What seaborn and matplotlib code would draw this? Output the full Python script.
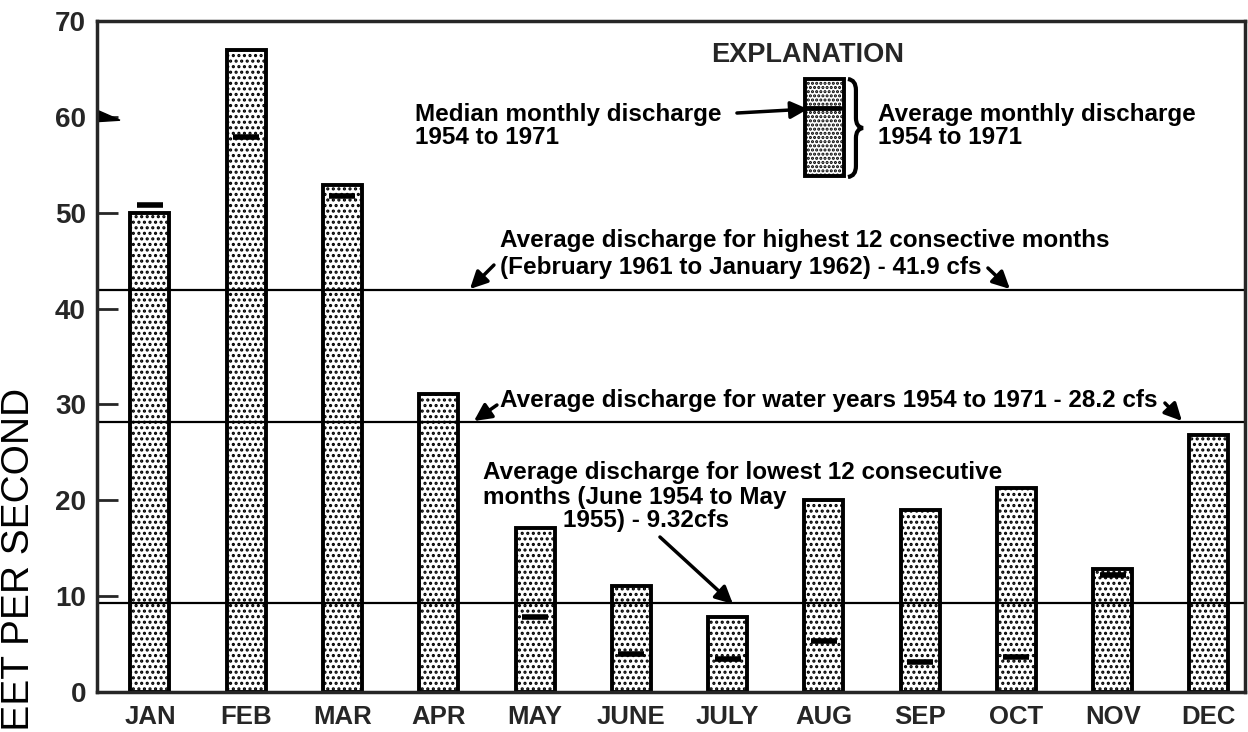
"""Monthly discharge bar chart, 1954 to 1971."""
import matplotlib
matplotlib.use("Agg")
import matplotlib.pyplot as plt
import matplotlib.transforms as mtransforms
from matplotlib.patches import Rectangle, Polygon, PathPatch
from matplotlib.path import Path
import numpy as np
import pandas as pd
import seaborn as sns

months = ["JAN", "FEB", "MAR", "APR", "MAY", "JUNE", "JULY",
          "AUG", "SEP", "OCT", "NOV", "DEC"]
avg_discharge = [50.0, 67.0, 52.9, 31.1, 17.1, 11.1, 7.8, 20.0, 19.0, 21.3, 12.8, 26.8]
median_discharge = [50.8, 57.9, 51.7, np.nan, 7.8, 4.0, 3.4, 5.3, 3.1, 3.7, 12.2, np.nan]
ref_levels = [41.9, 28.2, 9.32]
y_ticks = [0, 10, 20, 30, 40, 50, 60, 70]

df = pd.DataFrame({"month": months, "avg": avg_discharge, "median": median_discharge})

sns.set_style("ticks")
plt.rcParams["font.family"] = ["Liberation Sans", "DejaVu Sans"]
plt.rcParams["hatch.linewidth"] = 1.5

W, H = 1248, 732
fig = plt.figure(figsize=(W / 100, H / 100), dpi=100)
ax = fig.add_axes([97 / W, (H - 692) / H, (1245 - 97) / W, (692 - 21) / H])


def px(x, y):
    # pixel position in the reference -> data coords
    return (x - 150) / 96.27, (692 - y) / 9.586


sns.barplot(data=df, x="month", y="avg", order=months, width=0.405,
            color="white", saturation=1, edgecolor="black", linewidth=2.8,
            hatch="...", ax=ax)

med = df.dropna()
sns.scatterplot(data=med, x="month", y="median", marker="_", s=330,
                linewidth=4, color="black", ax=ax, zorder=5)

for lvl in ref_levels:
    ax.axhline(lvl, color="black", lw=1.6, zorder=1)

ax.set_xlim(-0.55, 11.375)
ax.set_ylim(0, 70)
ax.set_yticks(y_ticks)
ax.set_xlabel("")
ax.set_ylabel("")
for s in ax.spines.values():
    s.set_visible(True)
    s.set_linewidth(2.5)
ax.tick_params(axis="y", direction="in", length=15, width=2, pad=8,
               labelsize=20)
ax.tick_params(axis="x", length=0, pad=9, labelsize=18.5)
for lab in ax.get_yticklabels() + ax.get_xticklabels():
    lab.set_fontweight("bold")

# flag on the 60 tick
trans = mtransforms.blended_transform_factory(ax.transAxes, ax.transData)
ax.add_patch(Polygon([(0, 60.7), (0, 59.5), (0.02, 59.65)], closed=True,
                     color="black", transform=trans, clip_on=False))

arrow = dict(arrowstyle="-|>", lw=2.5, color="black", mutation_scale=26,
             shrinkA=0, shrinkB=0)
txt = dict(fontsize=17.5, fontweight="bold", color="black")

# highest 12 months
ax.text(*px(500, 254), "Average discharge for highest 12 consective months\n"
        "(February 1961 to January 1962) - 41.9 cfs",
        ha="left", va="center", linespacing=1.2, **txt)
ax.annotate("", xy=px(470, 289), xytext=px(494, 265), arrowprops=arrow)
ax.annotate("", xy=px(1010, 289), xytext=px(988, 268), arrowprops=arrow)

# water years
ax.text(*px(500, 400), "Average discharge for water years 1954 to 1971 - 28.2 cfs",
        ha="left", va="center", **txt)
ax.annotate("", xy=px(474, 421), xytext=px(497, 405), arrowprops=arrow)
ax.annotate("", xy=px(1182, 421), xytext=px(1165, 403), arrowprops=arrow)

# lowest 12 months
ax.text(*px(483, 485), "Average discharge for lowest 12 consecutive\n"
        "months (June 1954 to May",
        ha="left", va="center", linespacing=1.15, **txt)
ax.text(*px(563, 520), "1955) - 9.32cfs", ha="left", va="center", **txt)
ax.annotate("", xy=px(733, 604), xytext=px(660, 537), arrowprops=arrow)

# explanation
ax.text(*px(808, 55), "EXPLANATION", ha="center", va="center",
        fontsize=19.5, fontweight="bold")
x0, y0 = px(805, 176)
x1, y1 = px(844, 79)
ax.add_patch(Rectangle((x0, y0), x1 - x0, y1 - y0, facecolor="white",
                       edgecolor="black", lw=2.8, hatch="...."))
ax.plot([x0, x1 - 0.04], [px(0, 108)[1]] * 2, color="black", lw=3.5)
ax.annotate("", xy=px(808, 109), xytext=px(737, 113), arrowprops=arrow)
ax.text(*px(415, 126), "Median monthly discharge\n1954 to 1971",
        ha="left", va="center", linespacing=1.0, **txt)
ax.text(*px(878, 126), "Average monthly discharge\n1954 to 1971",
        ha="left", va="center", linespacing=1.0, **txt)

# brace
verts = [px(848, 79), px(856, 80), px(856, 90),
         px(856, 118), px(856, 127), px(863, 128),
         px(856, 129), px(856, 138),
         px(856, 166), px(856, 176), px(848, 177)]
codes = [Path.MOVETO, Path.CURVE3, Path.CURVE3,
         Path.LINETO, Path.CURVE3, Path.CURVE3,
         Path.CURVE3, Path.CURVE3,
         Path.LINETO, Path.CURVE3, Path.CURVE3]
ax.add_patch(PathPatch(Path(verts, codes), facecolor="none",
                       edgecolor="black", lw=3))

fig.text(0.001, (H - 388) / H, "CUBIC FEET PER SECOND", rotation=90,
         ha="left", va="top", fontsize=28, color="black")

fig.savefig("out.png", dpi=100)
